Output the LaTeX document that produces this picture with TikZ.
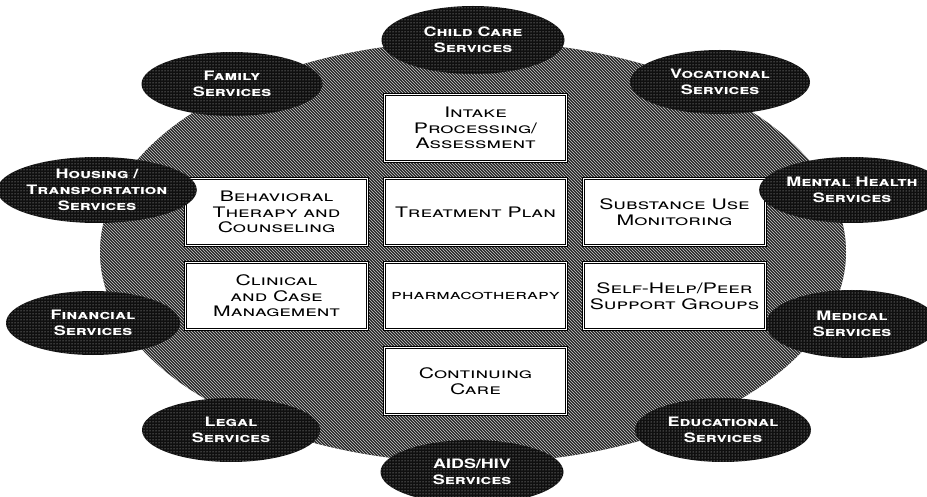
\documentclass[tikz,border=0pt]{standalone}
\usepackage{fontspec}
\newfontfamily\boxfont[FakeStretch=1.46]{TeX Gyre Heros}
\newfontfamily\svcfont[FakeStretch=1.38]{TeX Gyre Heros}
\usetikzlibrary{shapes.geometric,patterns}
\definecolor{hubgray}{gray}{0.15}
\definecolor{svcblack}{gray}{0.06}

\begin{document}
\begin{tikzpicture}[x=1pt,y=-1pt,
  hub/.style={ellipse,fill=hubgray,minimum width=746pt,minimum height=422pt,inner sep=0pt,
    postaction={pattern=north west lines,pattern color=gray!40}},
  svc/.style={ellipse,fill=svcblack,text=white,align=center,inner sep=0pt,
    minimum width=178pt,minimum height=64pt,
    postaction={pattern=dots,pattern color=gray!40},
    font=\svcfont\bfseries\scshape\fontsize{13}{16}\selectfont},
  stage/.style={draw=black,double=white,double distance=1.6pt,line width=0.9pt,fill=white,
    minimum width=182pt,minimum height=67pt,align=center,inner sep=2pt,
    font=\boxfont\scshape\fontsize{14.5}{15.5}\selectfont}]
\useasboundingbox (0,0) rectangle (927,497);
\node[hub] (hub) at (473,252) {};

\node[stage] (intake) at (475.5,128) {Intake\\Processing/\\Assessment};
\node[stage] (plan) at (475.5,212) {Treatment Plan};
\node[stage] (behav) at (276.5,212) {Behavioral\\Therapy and\\Counseling};
\node[stage] (subst) at (674.5,212) {Substance Use\\Monitoring};
\node[stage] (clin) at (276.5,296) {Clinical\\and Case\\Management};
\node[stage,font=\boxfont\scshape\fontsize{13.5}{15}\selectfont] (pharma) at (475.5,296) {pharmacotherapy};
\node[stage] (peer) at (674.5,296) {Self-Help/Peer\\Support Groups};
\node[stage] (care) at (475.5,381) {Continuing\\Care};

\node[svc,minimum width=183pt,minimum height=68pt] (child) at (473,40) {Child Care\\Services};
\node[svc,minimum width=181pt] (family) at (232,84) {Family\\Services};
\node[svc,minimum width=180pt] (voc) at (720,82) {Vocational\\Services};
\node[svc,minimum width=174pt,minimum height=66pt] (housing) at (97,190) {Housing /\\Transportation\\Services};
\node[svc,minimum width=172pt,minimum height=66pt] (mental) at (852,190) {Mental Health\\Services};
\node[svc,minimum width=174pt] (fin) at (93,323) {Financial\\Services};
\node[svc,minimum width=172pt,minimum height=68pt] (med) at (852,324) {Medical\\Services};
\node[svc] (legal) at (231,430) {Legal\\Services};
\node[svc,minimum width=176pt] (edu) at (723,430) {Educational\\Services};
\node[svc,minimum width=183pt] (aids) at (472,472) {AIDS/HIV\\Services};
\end{tikzpicture}
\end{document}
